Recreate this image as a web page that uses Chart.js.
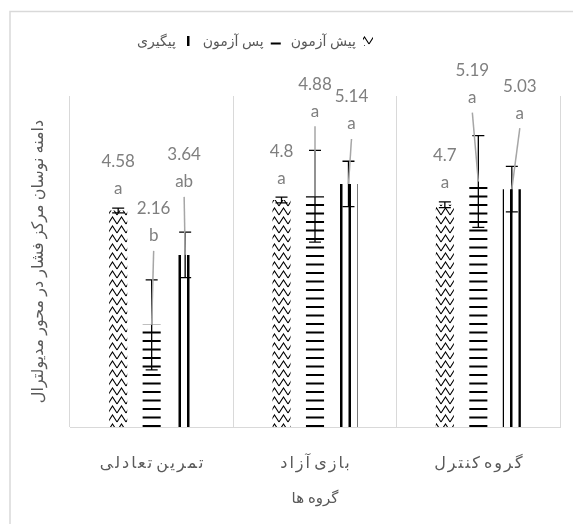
<!DOCTYPE html>
<html>
<head>
<meta charset="utf-8">
<script src="https://cdn.jsdelivr.net/npm/chart.js@4"></script>
<style>
  body { margin: 0; background: #fff; }
  #wrap { position: relative; width: 573px; height: 524px; }
</style>
</head>
<body>
<div id="wrap"><canvas id="myChart"></canvas></div>
<script>
const groups = ['تمرین تعادلی', 'بازی آزاد', 'گروه کنترل'];
const seriesNames = ['پیش آزمون', 'پس آزمون', 'پیگیری'];

const preTest = [4.58, 4.8, 4.7];
const postTest = [2.16, 4.88, 5.19];
const followUp = [3.64, 5.14, 5.03];

const preErr = [0.05, 0.06, 0.06];
const postErr = [0.95, 0.97, 0.97];
const followErr = [0.48, 0.48, 0.48];

const preLetters = ['a', 'a', 'a'];
const postLetters = ['b', 'a', 'a'];
const followLetters = ['ab', 'a', 'a'];

// manual nudges of the data labels (px), like the dragged labels in the original
const labelNudge = [
  [[0, 0], [0, 0], [0, 0]],
  [[2, -67], [0, -63], [-6, -62]],
  [[-1, -51], [3, -38], [8, -54]]
];

const latin = 'Lato, "DejaVu Sans", sans-serif';

// the category labels are printed with wide character spacing;
// canvas letterSpacing is ignored for Arabic, so put thin spaces in between
// and keep the joined letter forms with zero width joiners
function spaced(s) {
  const noLeftJoin = 'اآأإدذرزژوؤة ';
  let out = '';
  for (let i = 0; i < s.length; i++) {
    const c = s[i], n = s[i + 1];
    out += c;
    if (n === undefined || c === ' ' || n === ' ') continue;
    out += noLeftJoin.includes(c) ? '\u2009' : '\u200D\u2009\u200D';
  }
  return out;
}

function makePattern(w, h, draw) {
  const c = document.createElement('canvas');
  c.width = w; c.height = h;
  const g = c.getContext('2d');
  draw(g);
  return g.createPattern(c, 'repeat');
}

const zigzag = makePattern(9, 9, g => {
  g.strokeStyle = '#000';
  g.lineWidth = 1.1;
  g.beginPath();
  g.moveTo(0, 8); g.lineTo(4.5, 1); g.lineTo(9, 8);
  g.stroke();
});
const hStripes = makePattern(4, 17, g => {
  g.fillStyle = '#000';
  g.fillRect(0, 0, 4, 2);
  g.fillRect(0, 8.5, 4, 2);
});
const vStripes = makePattern(17, 4, g => {
  g.fillStyle = '#000';
  g.fillRect(0, 0, 2.5, 4);
  g.fillRect(8.5, 0, 2.5, 4);
});

const errors = [preErr, postErr, followErr];
const letters = [preLetters, postLetters, followLetters];

const annotate = {
  id: 'annotate',
  afterDatasetsDraw(chart) {
    const ctx = chart.ctx;
    const y = chart.scales.y;
    ctx.save();
    // error bars
    chart.data.datasets.forEach((ds, i) => {
      chart.getDatasetMeta(i).data.forEach((bar, j) => {
        const v = ds.data[j], e = errors[i][j];
        const y1 = y.getPixelForValue(v + e), y2 = y.getPixelForValue(v - e);
        ctx.strokeStyle = '#000';
        ctx.lineWidth = 1.3;
        ctx.beginPath();
        ctx.moveTo(bar.x, y1); ctx.lineTo(bar.x, y2);
        ctx.moveTo(bar.x - 6, y1); ctx.lineTo(bar.x + 6, y1);
        ctx.moveTo(bar.x - 6, y2); ctx.lineTo(bar.x + 6, y2);
        ctx.stroke();
      });
    });
    // labels and leader lines
    chart.data.datasets.forEach((ds, i) => {
      chart.getDatasetMeta(i).data.forEach((bar, j) => {
        const [dx, dy] = labelNudge[i][j];
        const lx = bar.x + dx;
        const ly = bar.y - 22 + dy;
        if (dy !== 0) {
          ctx.strokeStyle = '#a6a6a6';
          ctx.lineWidth = 1.5;
          ctx.beginPath();
          ctx.moveTo(lx, ly + 15);
          ctx.lineTo(bar.x, bar.y);
          ctx.stroke();
        }
        ctx.fillStyle = '#7f7f7f';
        ctx.font = '17px ' + latin;
        ctx.textAlign = 'center';
        ctx.textBaseline = 'middle';
        ctx.fillText(String(ds.data[j]), lx, ly - 27);
        ctx.fillText(letters[i][j], lx, ly);
      });
    });
    ctx.restore();
  }
};

const frame = {
  id: 'frame',
  afterLayout(chart) {
    const lg = chart.legend;
    lg.left -= 30; lg.right -= 30;
    lg.top -= 38; lg.bottom -= 38;
  },
  beforeDraw(chart) {
    const ctx = chart.ctx;
    ctx.save();
    ctx.strokeStyle = '#d9d9d9';
    ctx.lineWidth = 1.5;
    ctx.strokeRect(10, 11.5, 600, 600);
    ctx.restore();
  }
};

new Chart(document.getElementById('myChart'), {
  type: 'bar',
  data: {
    labels: groups,
    datasets: [
      { label: seriesNames[0], data: preTest, backgroundColor: zigzag, borderWidth: 0 },
      { label: seriesNames[1], data: postTest, backgroundColor: hStripes, borderWidth: 0 },
      { label: seriesNames[2], data: followUp, backgroundColor: vStripes, borderWidth: 0 }
    ]
  },
  options: {
    responsive: true,
    maintainAspectRatio: false,
    animation: false,
    categoryPercentage: 0.615,
    barPercentage: 0.54,
    layout: { padding: { left: 10, right: 13, top: 62, bottom: 13 } },
    plugins: {
      tooltip: { enabled: false },
      legend: {
        position: 'top',
        rtl: true,
        textDirection: 'rtl',
        labels: {
          boxWidth: 10,
          boxHeight: 10,
          padding: 10,
          color: '#595959',
          font: { size: 14, family: latin }
        }
      }
    },
    scales: {
      x: {
        grid: { color: '#d9d9d9', drawTicks: false, offset: true },
        border: { color: '#d9d9d9' },
        ticks: {
          color: '#595959',
          padding: 26,
          font: { size: 16, family: latin },
          callback: (v, i) => spaced(groups[i])
        },
        title: {
          display: true,
          text: 'گروه ها',
          color: '#595959',
          font: { size: 15, family: latin },
          padding: { top: 19, bottom: 4 }
        },
        afterFit(scale) { scale.height = 84; }
      },
      y: {
        min: 0,
        max: 7,
        grid: { display: false },
        border: { display: false },
        ticks: { display: false },
        title: {
          display: true,
          text: 'دامنه نوسان مرکز فشار در محور مدیولترال',
          color: '#595959',
          font: { size: 16, family: latin },
          padding: { top: 18, bottom: 24 }
        },
        afterFit(scale) { scale.width = 60; }
      }
    }
  },
  plugins: [annotate, frame]
});
</script>
</body>
</html>
